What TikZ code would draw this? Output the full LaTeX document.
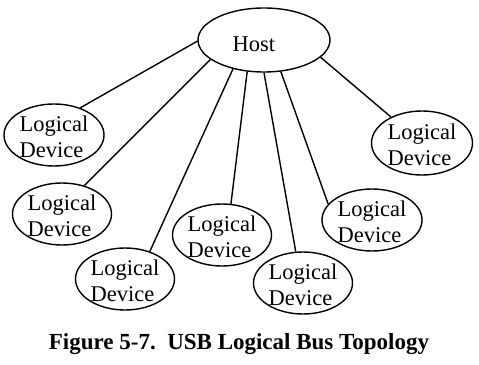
\documentclass[tikz,border=0pt]{standalone}
\usepackage{fontspec}
\setmainfont{Liberation Serif}
\usetikzlibrary{shapes.geometric}
\begin{document}
\begin{tikzpicture}[x=1pt,y=-1pt,
  oval/.style={ellipse,draw,line width=1.4pt,inner sep=0pt},
  dev/.style={oval,minimum width=99pt,minimum height=62pt},
  lbl/.style={font=\fontsize{22.5}{25.5}\selectfont,align=left,inner sep=0pt,yshift=-2pt},
  link/.style={line width=1.4pt}]
\useasboundingbox (0,0) rectangle (479,364);
% host
\node[oval,minimum width=132pt,minimum height=64pt] (host) at (264,40) {};
\node[font=\fontsize{22.5}{25}\selectfont,inner sep=0pt,anchor=base] (th) at (254,51) {Host};
% devices
\node[dev,minimum width=100pt] (d1) at (54,135) {};
\node[dev] (d2) at (62,214) {};
\node[dev] (d3) at (125,279) {};
\node[dev] (d4) at (222,235) {};
\node[dev] (d5) at (303,283) {};
\node[dev,minimum width=100pt] (d6) at (372,220) {};
\node[dev,minimum width=101pt,minimum height=64pt] (d7) at (422,143) {};
\foreach \i in {1,...,7}{\node[lbl] (t\i) at (d\i) {Logical\\Device};}
% connectors
\draw[link] (host.181) -- (d1.46);
\draw[link] (host.200) -- (d2.52);
\draw[link] (host.223) -- (d3.48);
\draw[link] (host.242) -- (d4.74);
\draw[link] (host.270) -- (d5.103);
\draw[link] (host.298) -- (d6.160);
\draw[link] (host.343) -- (d7.140);
% caption
\node[font=\bfseries\fontsize{23}{26}\selectfont,inner sep=0pt,anchor=base] (cap) at (239,349) {Figure 5-7.~~USB Logical Bus Topology};
\end{tikzpicture}
\end{document}
